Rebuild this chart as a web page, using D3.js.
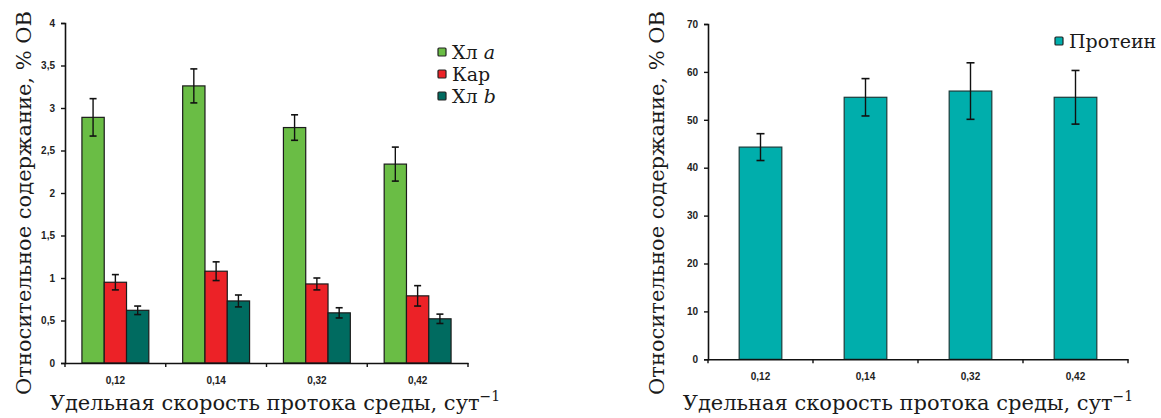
<!DOCTYPE html>
<html><head><meta charset="utf-8">
<script src="https://cdn.jsdelivr.net/npm/d3@7"></script>
<style>body{margin:0;background:#fff}svg{display:block}</style>
</head><body>
<script>
// ---- data ----
const categories = ["0,12", "0,14", "0,32", "0,42"];
const pigmentSeries = ["Хл a", "Кар", "Хл b"];
const chlA = [2.89, 3.26, 2.77, 2.34];
const chlAErr = [0.22, 0.20, 0.15, 0.20];
const kar = [0.95, 1.08, 0.93, 0.79];
const karErr = [0.09, 0.11, 0.07, 0.12];
const chlB = [0.62, 0.73, 0.59, 0.52];
const chlBErr = [0.05, 0.07, 0.06, 0.055];
const protein = [44.3, 54.7, 56.0, 54.7];
const proteinErr = [2.8, 3.9, 5.9, 5.6];
const leftTicks = [0, 0.5, 1, 1.5, 2, 2.5, 3, 3.5, 4];
const leftTickLabels = ["0", "0,5", "1", "1,5", "2", "2,5", "3", "3,5", "4"];
const rightTicks = [0, 10, 20, 30, 40, 50, 60, 70];

const colors = ["#6abd45", "#ec2227", "#006b60"];
const proteinColor = "#00aeac";

const W = 1161, H = 418;
const svg = d3.select("body").append("svg").attr("width", W).attr("height", H);
const serif = "DejaVu Serif";
const sans = "Liberation Sans";

function yAxisLabel(x, yc) {
  svg.append("text").attr("transform", `translate(${x},${yc}) rotate(-90)`)
    .attr("text-anchor", "middle").attr("font-family", serif).attr("font-size", 21)
    .attr("fill", "#1a1a1a").text("Относительное содержание, % ОВ");
}
function xAxisLabel(xc, y) {
  const t = svg.append("text").attr("x", xc).attr("y", y).attr("text-anchor", "middle")
    .attr("font-family", serif).attr("font-size", 21).attr("fill", "#1a1a1a");
  t.append("tspan").text("Удельная скорость протока среды, сут");
  t.append("tspan").attr("dy", -9).attr("font-size", 14).text("−1");
}

function drawAxes(x0, y, tickVals, tickFmt) {
  const [r0, r1] = x0.range();
  const y0 = y(0);
  const ya = svg.append("g").attr("transform", `translate(${r0},0)`)
    .call(d3.axisLeft(y).tickValues(tickVals).tickFormat(tickFmt).tickSize(4).tickPadding(6));
  ya.select(".domain").attr("stroke", "#111").attr("stroke-width", 1.6);
  ya.selectAll(".tick line").attr("stroke", "#111").attr("stroke-width", 1.4);
  ya.selectAll(".tick text").attr("font-family", sans).attr("font-weight", "bold")
    .attr("font-size", 10).attr("fill", "#222");
  const xa = svg.append("g").attr("transform", `translate(0,${y0})`)
    .call(d3.axisBottom(x0).tickSize(0).tickPadding(14));
  xa.select(".domain").attr("stroke", "#111").attr("stroke-width", 1.6);
  xa.selectAll(".tick text").attr("font-family", sans).attr("font-weight", "bold")
    .attr("font-size", 10).attr("fill", "#222");
  const bounds = [x0.domain()[0]].map(d => x0(d)).concat(x0.domain().map(d => x0(d) + x0.bandwidth()));
  svg.append("g").selectAll("line").data(bounds).join("line")
    .attr("x1", d => d).attr("x2", d => d).attr("y1", y0).attr("y2", y0 + 4)
    .attr("stroke", "#111").attr("stroke-width", 1.4);
}

function errBar(g, cx, top, bot, cap) {
  g.append("line").attr("x1", cx).attr("x2", cx).attr("y1", top).attr("y2", bot)
    .attr("stroke", "#111").attr("stroke-width", 1.4);
  [top, bot].forEach(yy => g.append("line").attr("x1", cx - cap).attr("x2", cx + cap)
    .attr("y1", yy).attr("y2", yy).attr("stroke", "#111").attr("stroke-width", 1.6));
}

// ---- left chart ----
{
  const x0 = d3.scaleBand().domain(categories).range([65, 468]).padding(0);
  const bw = x0.bandwidth();
  const x1 = d3.scaleBand().domain(pigmentSeries).range([bw * 0.168, bw * 0.832]).padding(0);
  const y = d3.scaleLinear().domain([0, 4]).range([363, 23]);
  const vals = [chlA, kar, chlB], errs = [chlAErr, karErr, chlBErr];
  const g = svg.append("g");
  pigmentSeries.forEach((s, si) => {
    categories.forEach((c, ci) => {
      const v = vals[si][ci];
      g.append("rect").attr("x", x0(c) + x1(s)).attr("width", x1.bandwidth())
        .attr("y", y(v)).attr("height", y(0) - y(v))
        .attr("fill", colors[si]).attr("stroke", "#1b1b1b").attr("stroke-width", 1.2);
    });
  });
  pigmentSeries.forEach((s, si) => {
    categories.forEach((c, ci) => {
      const v = vals[si][ci], e = errs[si][ci];
      errBar(g, x0(c) + x1(s) + x1.bandwidth() / 2, y(v + e), y(v - e), 3.5);
    });
  });
  drawAxes(x0, y, leftTicks, (d, i) => leftTickLabels[i]);
  const lg = svg.append("g");
  pigmentSeries.forEach((s, i) => {
    const yy = 52 + i * 22;
    lg.append("rect").attr("x", 438).attr("y", yy - 4).attr("width", 8).attr("height", 8)
      .attr("fill", colors[i]).attr("stroke", "#222").attr("stroke-width", 1.2).attr("rx", 1);
    const t = lg.append("text").attr("x", 452).attr("y", yy + 7).attr("font-family", serif)
      .attr("font-size", 19).attr("fill", "#1a1a1a");
    const parts = s.split(" ");
    if (parts.length > 1) {
      t.append("tspan").text(parts[0] + " ");
      t.append("tspan").attr("font-style", "italic").text(parts[1]);
    } else t.text(s);
  });
  yAxisLabel(31, 203);
  xAxisLabel(275, 410);
}

// ---- right chart ----
{
  const x0 = d3.scaleBand().domain(categories).range([708, 1128]).padding(0);
  const bw = x0.bandwidth();
  const y = d3.scaleLinear().domain([0, 70]).range([359.3, 24]);
  const g = svg.append("g");
  categories.forEach((c, ci) => {
    const v = protein[ci];
    g.append("rect").attr("x", x0(c) + bw * 0.297).attr("width", bw * 0.406)
      .attr("y", y(v)).attr("height", y(0) - y(v))
      .attr("fill", proteinColor).attr("stroke", "#1b3b3a").attr("stroke-width", 1.2);
  });
  categories.forEach((c, ci) => {
    const v = protein[ci], e = proteinErr[ci];
    errBar(g, x0(c) + bw / 2, y(v + e), y(v - e), 4);
  });
  drawAxes(x0, y, rightTicks, d => d);
  svg.append("rect").attr("x", 1055).attr("y", 37).attr("width", 8).attr("height", 8)
    .attr("fill", proteinColor).attr("stroke", "#222").attr("stroke-width", 1.2).attr("rx", 1);
  svg.append("text").attr("x", 1069).attr("y", 48).attr("font-family", serif)
    .attr("font-size", 19).attr("fill", "#1a1a1a").text("Протеин");
  yAxisLabel(664, 203);
  xAxisLabel(908, 410);
}
</script>
</body></html>
